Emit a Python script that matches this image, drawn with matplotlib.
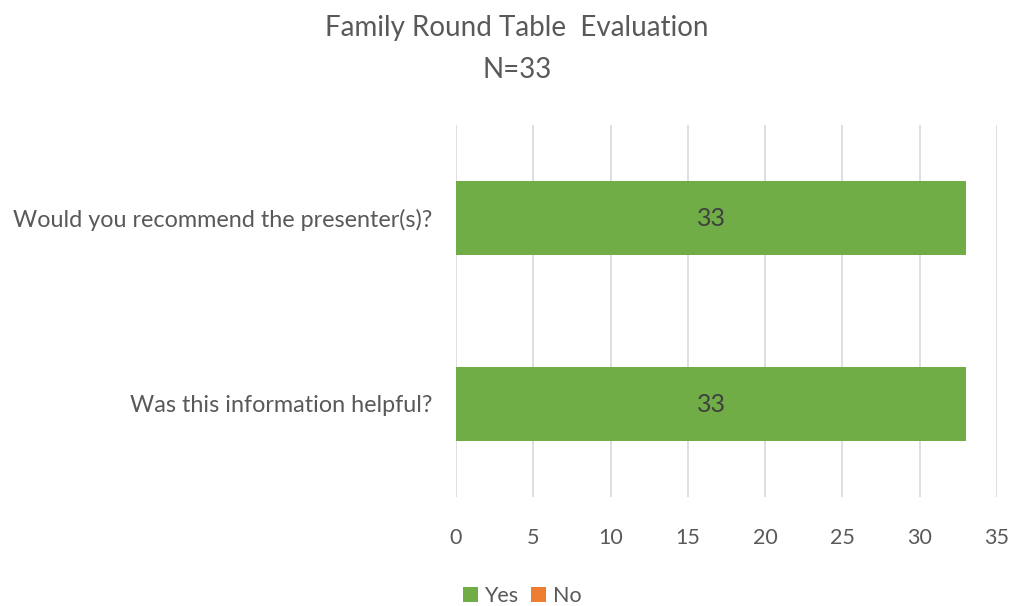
import matplotlib
matplotlib.use("Agg")
import matplotlib.pyplot as plt
import numpy as np

plt.rcParams["font.family"] = ["Lato", "DejaVu Sans"]

# data (bottom to top as drawn)
questions = ["Was this information helpful?", "Would you recommend the presenter(s)?"]
yes_counts = [33, 33]
no_counts = [0, 0]
x_ticks = [0, 5, 10, 15, 20, 25, 30, 35]

text_color = "#595959"
green = "#70AD47"
orange = "#ED7D31"

fig = plt.figure(figsize=(10.16, 6.06), dpi=100)
ax = fig.add_axes([456 / 1016, 1 - 497 / 606, (997 - 456) / 1016, (497 - 125) / 606])

y = np.arange(len(questions))
bars = ax.barh(y, yes_counts, height=0.4, color=green, label="Yes", zorder=3)
ax.barh(y, no_counts, left=yes_counts, height=0.4, color=orange, label="No", zorder=3)

for b, v in zip(bars, yes_counts):
    ax.text(b.get_x() + b.get_width() / 2, b.get_y() + b.get_height() / 2, str(v),
            ha="center", va="center", fontsize=18, color="#404040", zorder=4)

ax.set_xlim(0, 35)
ax.set_ylim(-0.5, len(questions) - 0.5)
ax.set_xticks(x_ticks)
ax.set_yticks(y)
ax.set_yticklabels(questions)
ax.tick_params(axis="both", length=0, colors=text_color)
ax.tick_params(axis="x", pad=22, labelsize=15.5)
ax.tick_params(axis="y", pad=17, labelsize=16.8)
ax.grid(axis="x", color="#D9D9D9", linewidth=1.2, zorder=0)
for s in ax.spines.values():
    s.set_visible(False)

fig.text(517 / 1016, 1 - 28 / 606, "Family Round Table  Evaluation", ha="center", va="center",
         fontsize=20, color=text_color)
fig.text(517 / 1016, 1 - 70 / 606, "N=33", ha="center", va="center",
         fontsize=20, color=text_color)

fig.legend(loc="center", bbox_to_anchor=(522 / 1016, 1 - 596 / 606), ncol=2, frameon=False,
           fontsize=15.5, labelcolor=text_color, handlelength=0.7, handleheight=0.7,
           handletextpad=0.3, columnspacing=0.6)

fig.savefig("out.png", dpi=100)
